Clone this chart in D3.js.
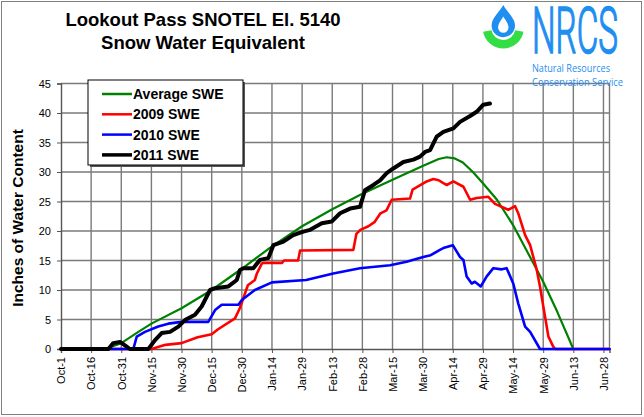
<!DOCTYPE html>
<html><head><meta charset="utf-8">
<script src="https://cdn.jsdelivr.net/npm/d3@7"></script>
<style>
html,body{margin:0;padding:0;background:#fff;}
svg{display:block;font-family:"Liberation Sans",Arial,sans-serif;}
</style></head>
<body><svg id="chart" width="644" height="417"></svg>
<script>
// Day offsets counted from Oct-1
const tickDays = [0,15,30,45,60,75,90,105,120,135,150,165,180,195,210,225,240,255,270];
const tickLabels = ["Oct-1","Oct-16","Oct-31","Nov-15","Nov-30","Dec-15","Dec-30","Jan-14","Jan-29","Feb-13","Feb-28","Mar-15","Mar-30","Apr-14","Apr-29","May-14","May-29","Jun-13","Jun-28"];
const yTicks = [0,5,10,15,20,25,30,35,40,45];

const avgDays = [0,22,30,38.5,45,60,75,90,105,120,135,150,165,180,188,192,196,200,205,210,217,225,233,240,247,255,273];
const avgSWE  = [0,0,1.0,2.9,4.3,6.9,10.0,13.6,17.4,20.8,23.7,26.3,28.7,31.0,32.2,32.5,32.3,31.6,30.0,28.1,25.3,21.0,15.9,11.4,6.3,0,0];

const swe2009Days = [0,45,52,60,68,75,78,86.6,89,93,96.5,97.5,100,101,110,111,118,119,145.5,147,149,153,156,159,162,164.6,173.7,175,182,185.3,188,190.3,192,195.3,200.3,203.6,206.9,212.7,216,222.6,226,227.6,231,233.5,236.8,238.4,240.9,242.6,245,246,273];
const swe2009     = [0,0,0.7,1.0,2.0,2.5,3.3,5.2,6.9,10.8,11.7,12.8,14.5,14.6,14.6,15.0,15.0,16.7,16.8,19.5,20.2,20.8,21.5,23.0,23.5,25.3,25.5,27.0,28.4,28.8,28.6,28.1,27.8,28.4,27.5,25.3,25.6,25.8,24.6,23.6,24.2,23.0,19.3,17.6,13.4,10.6,5.5,2.1,0.4,0,0];

const swe2010Days = [0,36,37.7,41.8,48.4,53.4,60,73.3,76.7,80,88.3,90,96.5,105,122,135.5,148.8,163.8,172,180.3,184,188.6,190.3,195,198.6,200.3,201.9,204.4,206,208.9,211.9,215.2,219.4,221.8,225.1,227.6,231,233.5,238.4,273];
const swe2010     = [0,0,2.1,2.9,3.8,4.3,4.6,4.6,6.6,7.5,7.5,8.3,10.0,11.3,11.7,12.8,13.7,14.2,14.8,15.6,15.9,16.8,17.1,17.6,15.6,15.1,12.3,11.1,11.4,10.6,12.3,13.7,13.5,13.7,11.1,7.7,3.8,2.9,0,0];

const swe2011Days = [0,23.6,26,29.4,32.7,34.3,43.5,46.8,50.1,54.3,58.4,61.7,66.7,70,74.2,76.7,83.3,87.5,89.1,90.8,95.7,99,103.2,105.7,110.7,115.6,120.6,124,129.8,134.7,138.9,143.9,148.8,151.3,155.5,158.8,162.1,165.4,170.4,175.4,178.7,181.2,183.7,187,190.3,195.3,198.6,203.6,206.9,210.2,213.5];
const swe2011     = [0,0,1.0,1.2,0.4,0,0,1.5,2.7,2.9,3.8,4.9,5.8,7.2,10.0,10.3,10.6,11.7,13.4,13.7,13.7,15.1,15.4,17.6,18.2,19.3,19.9,20.2,21.3,21.6,23.0,23.8,24.1,26.9,27.8,28.6,29.8,30.6,31.7,32.1,32.6,33.4,33.7,36.0,36.8,37.4,38.5,39.5,40.2,41.4,41.6];

const seriesNames = ["Average SWE","2009 SWE","2010 SWE","2011 SWE"];
const seriesColors = ["#008000","#ff0000","#0000ff","#000000"];
const seriesWidths = [2.2,2.6,2.6,4];

const svg = d3.select("#chart");
const x = d3.scaleLinear().domain([0,273]).range([61,609.5]);
const y = d3.scaleLinear().domain([0,45]).range([349,83.5]);

// outer dotted border
svg.append("rect").attr("x",1.5).attr("y",1.5).attr("width",640).attr("height",413)
  .attr("fill","none").attr("stroke","#000").attr("stroke-width",1).attr("stroke-dasharray","1,1");

// grid
const grid = svg.append("g");
grid.selectAll(".vg").data(tickDays.slice(1).concat([273])).enter().append("line")
  .attr("x1",d=>x(d)).attr("x2",d=>x(d)).attr("y1",y(45)).attr("y2",y(0))
  .attr("stroke","#7a7a7a").attr("stroke-width",1.4);
grid.selectAll(".hg").data(yTicks.slice(1)).enter().append("line")
  .attr("x1",x(0)).attr("x2",x(273)).attr("y1",d=>y(d)).attr("y2",d=>y(d))
  .attr("stroke","#7a7a7a").attr("stroke-width",1.4);

// axes
const yAxis = d3.axisLeft(y).tickValues(yTicks).tickSize(4).tickPadding(6);
const gy = svg.append("g").attr("transform",`translate(${x(0)},0)`).call(yAxis);
gy.select(".domain").attr("stroke","#555").attr("stroke-width",1.4);
gy.selectAll(".tick line").attr("stroke","#555");
gy.selectAll("text").attr("font-size",11).attr("fill","#000").attr("font-family","Liberation Sans, Arial, sans-serif");

const xAxis = d3.axisBottom(x).tickValues(tickDays).tickFormat((d,i)=>tickLabels[i]).tickSize(4);
const gx = svg.append("g").attr("transform",`translate(0,${y(0)})`).call(xAxis);
gx.select(".domain").attr("stroke","#555").attr("stroke-width",1.4);
gx.selectAll(".tick line").attr("stroke","#555");
gx.selectAll("text").attr("font-size",11).attr("fill","#000").attr("font-family","Liberation Sans, Arial, sans-serif")
  .attr("text-anchor","end").attr("transform","rotate(-90)").attr("x",-8).attr("y",0).attr("dy","0.35em");

// lines
const line = d3.line().x(d=>x(d[0])).y(d=>y(d[1]));
const series = [
  d3.zip(avgDays,avgSWE),
  d3.zip(swe2009Days,swe2009),
  d3.zip(swe2010Days,swe2010),
  d3.zip(swe2011Days,swe2011)
];
series.forEach((s,i)=>{
  svg.append("path").datum(s).attr("d",line).attr("fill","none")
    .attr("stroke",seriesColors[i]).attr("stroke-width",seriesWidths[i])
    .attr("stroke-linejoin","round").attr("stroke-linecap","round");
});

// legend
const lg = svg.append("g");
lg.append("rect").attr("x",90).attr("y",82).attr("width",155).attr("height",85).attr("fill","#555");
lg.append("rect").attr("x",88).attr("y",80).attr("width",155).attr("height",85).attr("fill","#fff").attr("stroke","#000").attr("stroke-width",1);
seriesNames.forEach((n,i)=>{
  const yy = 94 + i*20.3;
  lg.append("line").attr("x1",102).attr("x2",132).attr("y1",yy).attr("y2",yy)
    .attr("stroke",seriesColors[i]).attr("stroke-width",i===3?3.5:2.5);
  lg.append("text").attr("x",133).attr("y",yy).attr("dy","0.36em").attr("font-size",14).attr("font-weight","bold").text(n);
});

// title
svg.append("text").attr("x",203).attr("y",26).attr("text-anchor","middle").attr("font-size",18.5).attr("font-weight","bold").text("Lookout Pass SNOTEL El. 5140");
svg.append("text").attr("x",203).attr("y",48.5).attr("text-anchor","middle").attr("font-size",18.5).attr("font-weight","bold").text("Snow Water Equivalent");

// y label
svg.append("text").attr("transform","translate(23,218) rotate(-90)").attr("text-anchor","middle")
  .attr("font-size",15.5).attr("font-weight","bold").text("Inches of Water Content");

// NRCS logo
const logo = svg.append("g");
const blue = "#1f8ef1", green = "#33dd44";
const arc = d3.arc().innerRadius(12).outerRadius(20.5).startAngle(Math.PI/2+0.18).endAngle(3*Math.PI/2-0.18);
logo.append("path").attr("d",arc()).attr("transform","translate(503.3,28)").attr("fill",green);
logo.append("path").attr("d","M503.3,5 C507,12 515,18 515,25.5 A11.7,11.7 0 0 1 491.6,25.5 C491.6,18 499.6,12 503.3,5 Z").attr("fill",blue);
logo.append("path").attr("d","M503.3,16.5 C505,20 508.5,23 508.5,27.5 A5.2,5.2 0 0 1 498.1,27.5 C498.1,23 501.6,20 503.3,16.5 Z").attr("fill","#fff");
const nrcs = logo.append("text").attr("x",0).attr("y",0).attr("font-size",64).attr("font-family","Roboto, sans-serif").attr("font-weight",300)
  .attr("fill",blue).attr("stroke",blue).attr("stroke-width",1.6).text("NRCS");
const nw = nrcs.node().getComputedTextLength() || 160;
nrcs.attr("transform",`translate(532,53) scale(${86/nw},1)`);
logo.append("text").attr("x",532).attr("y",72).attr("font-size",11).attr("font-family","Open Sans, sans-serif")
  .attr("fill",blue).attr("textLength",78).attr("lengthAdjust","spacingAndGlyphs").text("Natural Resources");
logo.append("text").attr("x",532).attr("y",86).attr("font-size",11).attr("font-family","Open Sans, sans-serif")
  .attr("fill",blue).attr("textLength",91).attr("lengthAdjust","spacingAndGlyphs").text("Conservation Service");
</script></body></html>
